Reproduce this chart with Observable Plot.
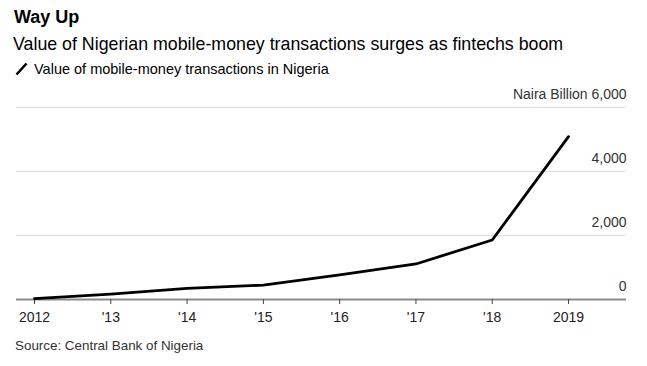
<!DOCTYPE html>
<html><head><meta charset="utf-8">
<script src="https://cdn.jsdelivr.net/npm/d3@7"></script>
<script src="https://cdn.jsdelivr.net/npm/@observablehq/plot@0.6"></script>
<style>
body{margin:0;background:#fff;font-family:"Liberation Sans",Arial,sans-serif;width:647px;height:366px;position:relative;overflow:hidden}
.t{position:absolute;left:14px;white-space:nowrap;color:#000;line-height:1}
#title{top:8px;font-size:18px;font-weight:bold;}
#sub{top:36px;font-size:17.8px;left:13px}
#leg{top:62px;font-size:14.5px;left:15px;display:flex;align-items:center}
#leg svg{margin-right:6px}
#chart{position:absolute;top:80px;left:0}
#src{top:339px;font-size:13.4px;color:#333;left:15px}
</style>
</head><body>
<div id="title" class="t">Way Up</div>
<div id="sub" class="t">Value of Nigerian mobile-money transactions surges as fintechs boom</div>
<div id="leg" class="t"><svg width="13" height="14"><line x1="1.5" y1="12.5" x2="11.5" y2="1.5" stroke="#000" stroke-width="2.6"/></svg><span>Value of mobile-money transactions in Nigeria</span></div>
<div id="chart"></div>
<div id="src" class="t">Source: Central Bank of Nigeria</div>
<script>
const years = [2012, 2013, 2014, 2015, 2016, 2017, 2018, 2019];
const values = [30, 170, 350, 450, 770, 1110, 1860, 5090];
const xTickLabels = ["2012", "'13", "'14", "'15", "'16", "'17", "'18", "2019"];
const yTicks = [0, 2000, 4000, 6000];
const yTickLabels = ["0", "2,000", "4,000", "Naira Billion 6,000"];

const data = years.map((y, i) => ({year: y, value: values[i]}));
const xLab = new Map(years.map((y, i) => [y, xTickLabels[i]]));

const chart = Plot.plot({
  width: 647,
  height: 260,
  marginLeft: 16,
  marginRight: 21,
  marginTop: 27,
  marginBottom: 41,
  style: {fontFamily: "'Liberation Sans', Arial, sans-serif", fontSize: "14px", color: "#222", background: "#fff"},
  x: {domain: [2011.764, 2019.76], axis: null},
  y: {domain: [0, 6000], axis: null},
  marks: [
    Plot.ruleY(yTicks.slice(1), {stroke: "#dcdcdc", strokeWidth: 1}),
    Plot.ruleY([0], {stroke: "#8a8a8a", strokeWidth: 2}),
    Plot.axisX({ticks: years, tickFormat: d => xLab.get(d), tickSize: 5, tickPadding: 8, stroke: "#444", fill: "#222", fontSize: 14, label: null}),
    Plot.line(data, {x: "year", y: "value", stroke: "#000", strokeWidth: 2.8}),
    Plot.text(yTicks, {y: d => d, text: (d, i) => yTickLabels[i], frameAnchor: "right", textAnchor: "end", dy: -13, fill: "#333", fontSize: 14})
  ]
});
document.getElementById("chart").appendChild(chart);
</script>
</body></html>
